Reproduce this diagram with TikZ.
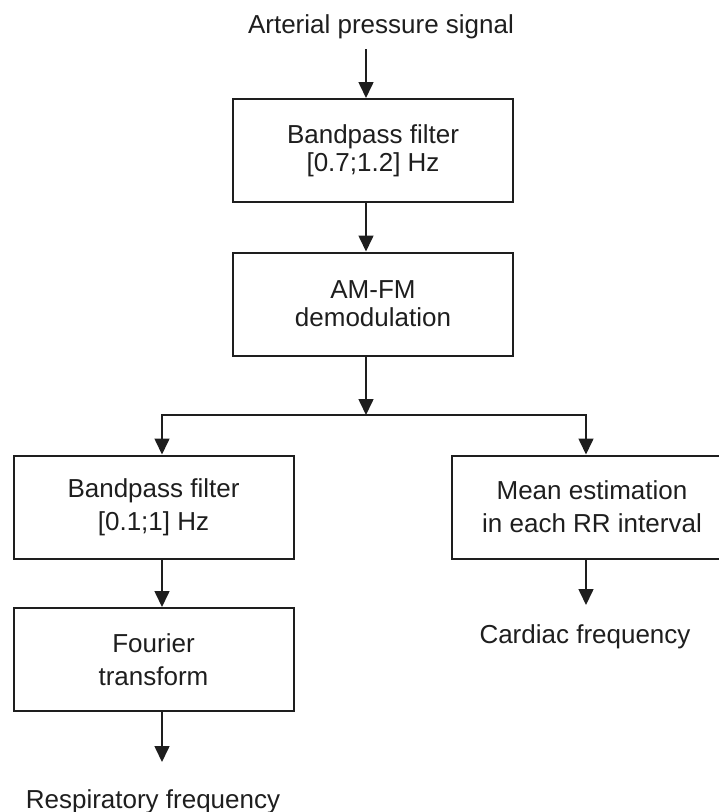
\documentclass[tikz,border=0pt]{standalone}
\usepackage{fontspec}
\setmainfont{Liberation Sans}
\usetikzlibrary{arrows.meta}
\definecolor{ink-color}{HTML}{1E1E1E}

\begin{document}
\begin{tikzpicture}[x=1pt, y=-1pt, >={Triangle[length=16pt,width=15pt]}, color=ink-color,
  font=\fontsize{26}{28}\selectfont]

\useasboundingbox (0,0) rectangle (719,812);

% column lines of the connectors
\coordinate(spine) at (366,0);
\coordinate(lcol) at (162,0);
\coordinate(rcol) at (586,0);

\begin{scope}[every node/.style={draw, line width=2pt, align=center, inner sep=0pt,
  minimum width=280pt, minimum height=103pt}]
\node(filt1) at (373,150.5) {Bandpass filter\\{[0.7;1.2]} Hz};
\node(demod) at (373,304)   {AM-FM\\demodulation};

\begin{scope}[font=\fontsize{26}{33}\selectfont]
\node(filt2)   at (153.5,507) {Bandpass filter\\{[0.1;1]} Hz};
\node(mean)    at (592,507)   {Mean estimation\\in each RR interval};
\node(fourier) at (153.5,659.5) {Fourier\\transform};
\end{scope}
\end{scope}

\node(signal)  [anchor=base] at (381,33)  {Arterial pressure signal};
\node(cardiac) [anchor=base] at (585,643) {Cardiac frequency};
\node(resp)    [anchor=base] at (153,808) {Respiratory frequency};

\coordinate(signal-out) at (366,49);
\coordinate(split) at (366,415);
\coordinate(cardiac-in) at (586,605);
\coordinate(resp-in) at (162,762);

\begin{scope}[line width=1.6pt]
\draw[->] (signal-out) -- (filt1.north -| spine);
\draw[->] (filt1.south -| spine) -- (demod.north -| spine);
\draw[->] (demod.south -| spine) -- (split);
\draw[->] (split) -| (filt2.north -| lcol);
\draw[->] (split) -| (mean.north -| rcol);
\draw[->] (filt2.south -| lcol) -- (fourier.north -| lcol);
\draw[->] (mean.south -| rcol) -- (cardiac-in);
\draw[->] (fourier.south -| lcol) -- (resp-in);
\end{scope}

\end{tikzpicture}
\end{document}
